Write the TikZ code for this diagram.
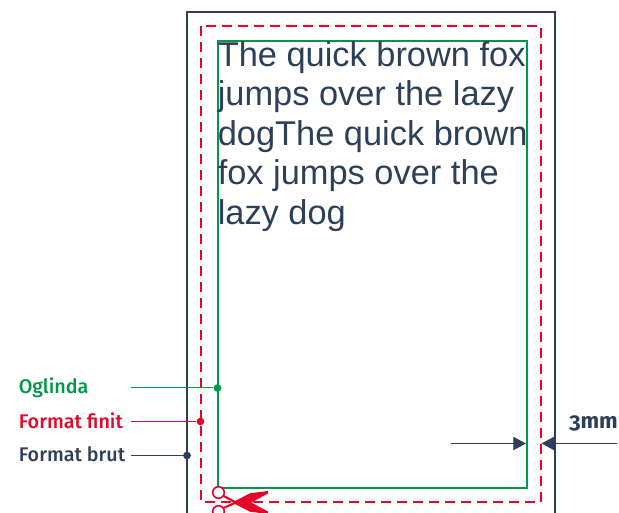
\documentclass[tikz,border=0pt]{standalone}
\usepackage{fontspec}
\setmainfont{Liberation Sans}
\newfontfamily\labelfont[Numbers=OldStyle]{Fira Sans Medium}
\newfontfamily\dimfont[Numbers=OldStyle]{Fira Sans}
\usetikzlibrary{arrows.meta}
\definecolor{navy}{RGB}{46,64,87}
\definecolor{leaf}{RGB}{0,152,70}
\definecolor{cut}{RGB}{227,6,40}
\tikzset{
  labeltext/.style={anchor=west,inner sep=0.75pt,font=\labelfont\fontsize{14.8}{17}\selectfont},
  pin/.style={circle,inner sep=0pt,minimum size=5.8pt},
  leader/.style={line width=0.75pt},
  dimline/.style={color=navy,line width=0.9pt,-{Triangle[length=9.5pt,width=10pt]}}
}
\begin{document}
\begin{tikzpicture}[x=0.75pt,y=0.75pt,yscale=-1,xscale=1]
\useasboundingbox (0,0) rectangle (619,513);

%Shape: Rectangle
\draw [color=navy,line width=1.5pt] (187,513) -- (187,12.5) -- (554.5,12.5) -- (554.5,513);
%Shape: Rectangle
\draw [color=cut,line width=1.5pt,dash pattern={on 7.5pt off 4.5pt}] (200.5,26.5) rectangle (541,502);
%Shape: Rectangle
\draw [color=leaf,line width=1.5pt] (217.5,41) rectangle (526.5,488.5);

% Text Node
\node (sample) [anchor=north west,inner sep=0pt,align=left,text=navy,font=\fontsize{25.8}{29.6}\selectfont] at (217.5,41) {The quick brown fox\\jumps over the lazy\\dogThe quick brown\\fox jumps over the\\lazy dog};

% Text Node
\node (oglinda) [labeltext,text=leaf] at (17.5,387.5) {Oglinda};
\node (finit) [labeltext,text=cut] at (17.5,420.5) {Format finit};
\node (brut) [labeltext,text=navy] at (17.5,454.5) {Format brut};
% Text Node
\node (dim) [anchor=west,inner sep=0.75pt,text=navy,font=\dimfont\bfseries\fontsize{16.5}{18}\selectfont] at (568,423) {3mm};

%Shape: Ellipse
\node (ogpin) [pin,fill=leaf] at (217.5,388) {};
\node (finpin) [pin,fill=cut] at (200.5,421.5) {};
\node (brutpin) [pin,fill=navy] at (187,455.5) {};
\coordinate (ogstart) at (131,388);
\coordinate (finstart) at (131,421.5);
\coordinate (brutstart) at (131,455.5);

%Straight Lines
\draw [leader,color=leaf] (ogstart) -- (ogpin);
\draw [leader,color=cut] (finstart) -- (finpin);
\draw [leader,color=navy] (brutstart) -- (brutpin);

%Straight Lines
\coordinate (leftfrom) at (451,443.5);
\coordinate (leftto) at (526,443.5);
\coordinate (rightfrom) at (617,443.5);
\coordinate (rightto) at (541.5,443.5);
\draw [dimline] (leftfrom) -- (leftto);
\draw [dimline] (rightfrom) -- (rightto);

%Scissors
\draw [color=cut,line width=1.2pt,fill=white] (218.5,492.5) circle [radius=5.8];
\draw [color=cut,line width=1.2pt,fill=white] (218.5,511.5) circle [radius=5.8];
\draw [color=cut,line width=1.6pt] (223.5,496) -- (236,502.5) -- (223.5,508);
\fill [color=cut] (233,502) -- (250,493.3) -- (268,491) -- (268,493.5) -- (243,507) -- cycle;
\fill [color=cut] (233,503) -- (250,511.7) -- (268,514) -- (268,511.5) -- (243,498) -- cycle;
\end{tikzpicture}
\end{document}
